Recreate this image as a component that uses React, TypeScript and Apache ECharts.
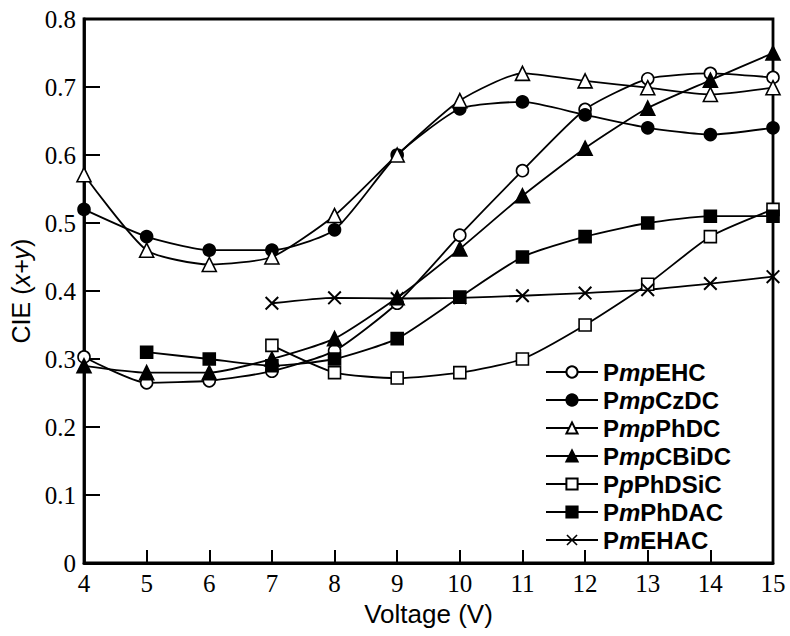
import React, { useEffect, useRef } from "react";
import * as echarts from "echarts";

const voltages = [4, 5, 6, 7, 8, 9, 10, 11, 12, 13, 14, 15];
const seriesNames = ["PmpEHC", "PmpCzDC", "PmpPhDC", "PmpCBiDC", "PpPhDSiC", "PmPhDAC", "PmEHAC"];
const italicParts = ["mp", "mp", "mp", "mp", "p", "m", "m"];
const pmpEHC = [0.303, 0.265, 0.268, 0.282, 0.312, 0.382, 0.482, 0.577, 0.667, 0.712, 0.72, 0.714];
const pmpCzDC = [0.52, 0.48, 0.46, 0.46, 0.49, 0.6, 0.668, 0.678, 0.659, 0.64, 0.63, 0.64];
const pmpPhDC = [0.571, 0.46, 0.439, 0.45, 0.511, 0.6, 0.68, 0.72, 0.709, 0.699, 0.689, 0.699];
const pmpCBiDC = [0.29, 0.28, 0.28, 0.3, 0.33, 0.39, 0.462, 0.54, 0.61, 0.669, 0.71, 0.75];
const ppPhDSiC = [null, null, null, 0.32, 0.28, 0.272, 0.28, 0.3, 0.35, 0.41, 0.48, 0.52];
const pmPhDAC = [null, 0.31, 0.3, 0.29, 0.3, 0.33, 0.391, 0.45, 0.48, 0.5, 0.51, 0.51];
const pmEHAC = [null, null, null, 0.382, 0.39, 0.389, 0.39, 0.393, 0.397, 0.402, 0.411, 0.421];

const crossPath = "path://M0,1L1,0L10,9L9,10ZM9,0L10,1L1,10L0,9Z";

export default function App() {
  const ref = useRef<HTMLDivElement>(null);
  useEffect(() => {
    document.body.style.margin = "0";
    const chart = echarts.init(ref.current!, null, { renderer: "svg" });
    const allValues = [pmpEHC, pmpCzDC, pmpPhDC, pmpCBiDC, ppPhDSiC, pmPhDAC, pmEHAC];
    const symbols = ["circle", "circle", "triangle", "triangle", "rect", "rect", crossPath];
    const filled = [false, true, false, true, false, true, true];
    const sizes = [12, 12, 14, 14, 12, 12, 14];
    const series = allValues.map((vals, i) => ({
      name: seriesNames[i],
      type: "line",
      smooth: 0.2,
      data: voltages
        .map((v, k) => [v, vals[k]])
        .filter((p) => p[1] !== null),
      symbol: symbols[i],
      symbolSize: sizes[i],
      showAllSymbol: true,
      lineStyle: { color: "#000", width: 1.8 },
      itemStyle: {
        color: filled[i] ? "#000" : "#fff",
        borderColor: "#000",
        borderWidth: i === 6 ? 0 : 1.6,
      },
      emphasis: { disabled: true },
      z: 2,
    }));
    chart.setOption({
      animation: false,
      grid: {
        left: 84,
        right: 17,
        top: 19,
        bottom: 73,
        show: true,
        borderColor: "#000",
        borderWidth: 2.8,
      },
      legend: {
        orient: "vertical",
        left: 540,
        top: 355,
        itemWidth: 52,
        itemHeight: 14,
        itemGap: 4,
        selectedMode: false,
        data: seriesNames,
        formatter: (name: string) => {
          const idx = seriesNames.indexOf(name);
          const it = italicParts[idx];
          return `{n|P}{i|${it}}{n|${name.slice(1 + it.length)}}`;
        },
        textStyle: {
          fontFamily: "Liberation Sans",
          fontWeight: "bold",
          fontSize: 24,
          lineHeight: 24,
          color: "#000",
          rich: {
            n: { fontFamily: "Liberation Sans", fontWeight: "bold", fontSize: 24, color: "#000" },
            i: { fontFamily: "Liberation Sans", fontWeight: "bold", fontStyle: "italic", fontSize: 24, color: "#000" },
          },
        },
      },
      xAxis: {
        type: "value",
        min: 4,
        max: 15,
        interval: 1,
        name: "Voltage (V)",
        nameLocation: "middle",
        nameGap: 32,
        nameTextStyle: { fontFamily: "Liberation Sans", fontSize: 26, color: "#000" },
        axisLine: { lineStyle: { color: "#000", width: 2.8 } },
        axisTick: { inside: true, length: 13, lineStyle: { color: "#000", width: 2 } },
        axisLabel: { fontFamily: "Liberation Serif", fontSize: 25, color: "#000", margin: 8 },
        splitLine: { show: false },
      },
      yAxis: {
        type: "value",
        min: 0,
        max: 0.8,
        interval: 0.1,
        name: "{n|CIE (}{i|x+y}{n|)}",
        nameLocation: "middle",
        nameGap: 42,
        nameTextStyle: {
          rich: {
            n: { fontFamily: "Liberation Sans", fontSize: 25, color: "#000" },
            i: { fontFamily: "Liberation Sans", fontStyle: "italic", fontSize: 25, color: "#000" },
          },
        },
        axisLine: { lineStyle: { color: "#000", width: 2.8 } },
        axisTick: { inside: true, length: 16, lineStyle: { color: "#000", width: 2 } },
        axisLabel: {
          fontFamily: "Liberation Serif",
          fontSize: 25,
          color: "#000",
          margin: 8,
          formatter: (v: number) => (v === 0 ? "0" : v.toFixed(1)),
        },
        splitLine: { show: false },
      },
      series,
    });
    return () => chart.dispose();
  }, []);
  return <div ref={ref} style={{ width: 790, height: 636 }} />;
}
